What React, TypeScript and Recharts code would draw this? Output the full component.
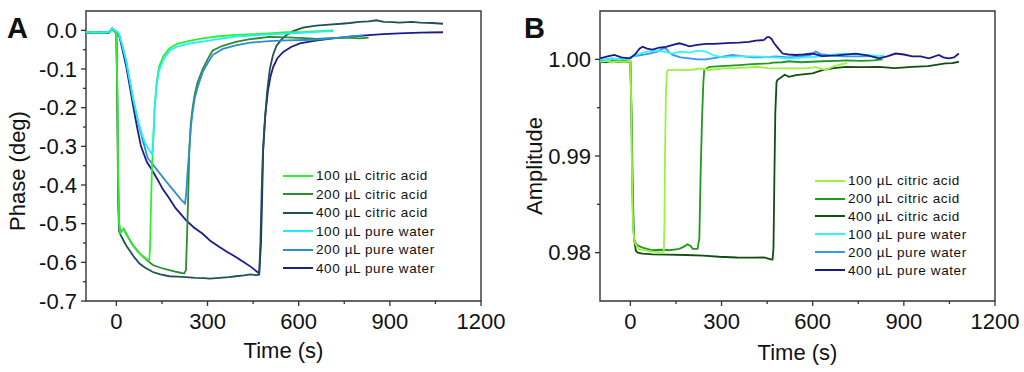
import { LineChart, Line, XAxis, YAxis, ReferenceArea, Legend } from "recharts"

type Pt = [number, number]

// time axis (s)
const X_TICKS = [0, 150, 300, 450, 600, 750, 900, 1050, 1200]
const PHASE_TICKS = [-0.7, -0.65, -0.6, -0.55, -0.5, -0.45, -0.4, -0.35, -0.3, -0.25, -0.2, -0.15, -0.1, -0.05, 0]
const AMP_TICKS = [0.98, 0.985, 0.99, 0.995, 1.0]

const SERIES_NAMES = [
  "100 µL citric acid",
  "200 µL citric acid",
  "400 µL citric acid",
  "100 µL pure water",
  "200 µL pure water",
  "400 µL pure water",
]

// panel A: phase (deg) vs time
const A_CITRIC_100: Pt[] = [
  [-100, -0.006], [-85, -0.004], [-70, -0.007], [-55, -0.005], [-40, -0.006], [-25, -0.004], [-14, 0.004], [-6, -0.002],
  [0, -0.008], [3, -0.15], [6, -0.38], [9, -0.5], [13, -0.524], [18, -0.519], [24, -0.514], [30, -0.524], [40, -0.538],
  [55, -0.557], [70, -0.572], [85, -0.583], [100, -0.592], [108, -0.596], [111, -0.56], [114, -0.45], [117, -0.36],
  [121, -0.29], [126, -0.2], [132, -0.14], [140, -0.095], [155, -0.066], [175, -0.046], [200, -0.035], [240, -0.027],
  [284, -0.021], [330, -0.016], [393, -0.012], [450, -0.01], [500, -0.008], [560, -0.005], [620, -0.004], [670, -0.002],
  [713, 0.0],
]
const A_CITRIC_200: Pt[] = [
  [-100, -0.005], [-85, -0.007], [-70, -0.005], [-55, -0.006], [-40, -0.004], [-25, -0.006], [-14, 0.004], [-6, -0.003],
  [0, -0.008], [3, -0.15], [6, -0.38], [9, -0.5], [13, -0.523], [18, -0.518], [24, -0.513], [30, -0.522], [40, -0.537],
  [55, -0.556], [70, -0.571], [85, -0.583], [100, -0.594], [120, -0.607], [145, -0.614], [174, -0.62], [200, -0.625],
  [223, -0.629], [229, -0.62], [233, -0.52], [237, -0.41], [240, -0.31], [245, -0.24], [251, -0.2], [258, -0.165],
  [267, -0.135], [284, -0.1], [300, -0.075], [317, -0.052], [350, -0.04], [393, -0.03], [440, -0.023], [503, -0.017],
  [560, -0.018], [620, -0.02], [658, -0.022], [700, -0.02], [760, -0.019], [801, -0.021], [830, -0.019],
]
const A_CITRIC_400: Pt[] = [
  [-100, -0.006], [-80, -0.005], [-60, -0.007], [-40, -0.005], [-25, -0.006], [-14, 0.003], [-6, -0.003], [0, -0.009],
  [3, -0.2], [6, -0.45], [9, -0.52], [16, -0.532], [25, -0.546], [35, -0.56], [43, -0.569], [60, -0.588], [76, -0.603],
  [95, -0.614], [120, -0.625], [145, -0.631], [174, -0.636], [200, -0.637], [229, -0.638], [260, -0.64], [290, -0.641],
  [306, -0.642], [340, -0.64], [370, -0.638], [393, -0.636], [420, -0.634], [440, -0.631], [459, -0.633], [470, -0.632],
  [474, -0.55], [478, -0.42], [482, -0.32], [488, -0.24], [496, -0.16], [505, -0.1], [515, -0.065], [527, -0.04],
  [543, -0.024], [560, -0.012], [582, -0.002], [614, 0.007], [658, 0.012], [700, 0.015], [740, 0.017], [768, 0.019],
  [800, 0.022], [830, 0.023], [856, 0.026], [880, 0.022], [910, 0.021], [932, 0.02], [970, 0.022], [1000, 0.02],
  [1040, 0.019], [1075, 0.017],
]
const A_WATER_100: Pt[] = [
  [-100, -0.004], [-85, -0.006], [-70, -0.004], [-55, -0.006], [-40, -0.005], [-25, -0.004], [-14, 0.005], [-6, 0.001],
  [0, -0.002], [5, -0.005], [10, -0.013], [20, -0.04], [32, -0.078], [43, -0.125], [54, -0.172], [70, -0.23],
  [87, -0.276], [100, -0.3], [110, -0.313], [117, -0.32], [121, -0.29], [126, -0.2], [132, -0.145], [140, -0.105],
  [155, -0.075], [176, -0.052], [200, -0.042], [240, -0.034], [284, -0.029], [340, -0.022], [393, -0.016], [450, -0.013],
  [520, -0.01], [600, -0.007], [660, -0.004], [713, -0.002],
]
const A_WATER_200: Pt[] = [
  [-100, -0.007], [-85, -0.005], [-70, -0.007], [-55, -0.005], [-40, -0.007], [-25, -0.005], [-14, 0.005], [-6, 0.0],
  [0, -0.003], [5, -0.006], [10, -0.014], [20, -0.042], [32, -0.08], [43, -0.127], [54, -0.175], [70, -0.232],
  [87, -0.285], [103, -0.33], [130, -0.357], [160, -0.387], [190, -0.416], [215, -0.44], [226, -0.448], [230, -0.42],
  [234, -0.37], [240, -0.31], [245, -0.25], [251, -0.21], [258, -0.175], [267, -0.148], [284, -0.108], [300, -0.085],
  [317, -0.064], [350, -0.048], [393, -0.039], [440, -0.032], [503, -0.028], [560, -0.026], [620, -0.025], [658, -0.024],
  [720, -0.02], [770, -0.016], [812, -0.013],
]
const A_WATER_400: Pt[] = [
  [-100, -0.005], [-85, -0.004], [-70, -0.006], [-55, -0.004], [-40, -0.006], [-25, -0.005], [-14, 0.004], [-6, 0.0],
  [0, -0.004], [5, -0.007], [10, -0.016], [20, -0.05], [32, -0.092], [43, -0.14], [54, -0.19], [68, -0.25], [81, -0.3],
  [100, -0.34], [120, -0.365], [135, -0.385], [152, -0.41], [170, -0.43], [195, -0.46], [229, -0.491], [255, -0.51],
  [284, -0.526], [310, -0.545], [338, -0.56], [365, -0.573], [393, -0.586], [420, -0.6], [445, -0.613], [470, -0.629],
  [476, -0.55], [480, -0.42], [483, -0.31], [490, -0.22], [499, -0.155], [507, -0.12], [516, -0.095], [530, -0.072],
  [549, -0.056], [575, -0.043], [604, -0.034], [650, -0.027], [713, -0.021], [780, -0.016], [820, -0.013], [877, -0.01],
  [930, -0.008], [1000, -0.006], [1075, -0.005],
]

// panel B: normalised amplitude vs time
const B_CITRIC_100: Pt[] = [
  [-100, 0.9998], [-80, 0.99985], [-60, 0.9997], [-40, 0.9998], [-20, 0.99975], [0, 0.9998], [3, 0.995], [6, 0.987],
  [9, 0.9826], [13, 0.9812], [20, 0.9807], [30, 0.98035], [45, 0.9803], [60, 0.98015], [73, 0.9801], [90, 0.98005],
  [106, 0.98], [110, 0.9801], [112, 0.983], [114, 0.99], [117, 0.9965], [120, 0.9986], [123, 0.99889], [150, 0.9989],
  [194, 0.99889], [230, 0.99905], [260, 0.9989], [303, 0.99906], [340, 0.9991], [380, 0.99915], [413, 0.99923],
  [450, 0.9991], [490, 0.99906], [522, 0.99906], [577, 0.99906], [610, 0.9992], [643, 0.99889], [670, 0.9993],
  [709, 0.99958], [713, 0.9996],
]
const B_CITRIC_200: Pt[] = [
  [-100, 0.99975], [-80, 0.9998], [-60, 0.9997], [-40, 0.99985], [-20, 0.9998], [0, 0.99975], [3, 0.995], [6, 0.987],
  [9, 0.9828], [13, 0.9813], [20, 0.9808], [40, 0.98052], [73, 0.98025], [100, 0.9803], [128, 0.98025], [150, 0.98035],
  [161, 0.9804], [175, 0.9806], [188, 0.98087], [198, 0.9807], [205, 0.9804], [221, 0.9804], [227, 0.9815], [231, 0.988],
  [236, 0.994], [240, 0.9975], [243, 0.99889], [260, 0.99923], [300, 0.9993], [358, 0.9994], [400, 0.9995],
  [457, 0.99958], [470, 0.99965], [500, 0.9997], [522, 0.9998], [560, 0.9997], [599, 0.99975], [632, 0.9998],
  [680, 0.99985], [709, 0.9999], [760, 0.99985], [800, 0.9999], [830, 1.0],
]
const B_CITRIC_400: Pt[] = [
  [-100, 0.9998], [-80, 0.9997], [-60, 0.9998], [-40, 0.99975], [-20, 0.9998], [0, 0.99975], [4, 0.994], [8, 0.986],
  [12, 0.9815], [18, 0.9802], [24, 0.98], [40, 0.9799], [73, 0.97983], [120, 0.9798], [183, 0.97976], [240, 0.9797],
  [292, 0.97958], [350, 0.9795], [402, 0.97948], [440, 0.9795], [462, 0.97931], [468, 0.9793], [471, 0.9805],
  [474, 0.988], [477, 0.9945], [481, 0.99765], [484, 0.99785], [508, 0.9984], [522, 0.99819], [545, 0.99837],
  [599, 0.99854], [632, 0.99889], [670, 0.9991], [709, 0.99923], [760, 0.9992], [818, 0.99923], [870, 0.9991],
  [928, 0.99923], [980, 0.9993], [1037, 0.99958], [1060, 0.9996], [1081, 0.99975],
]
const B_WATER_100: Pt[] = [
  [-100, 1.0], [-80, 0.99995], [-60, 1.0001], [-40, 1.0], [-25, 1.0001], [-10, 1.0], [0, 1.0002], [15, 1.0004],
  [30, 1.0006], [55, 1.0008], [84, 1.0009], [110, 1.0008], [139, 1.0006], [165, 1.0008], [194, 1.0007], [220, 1.0009],
  [249, 1.0008], [275, 1.0004], [303, 1.0002], [350, 1.0003], [413, 1.0003], [470, 1.0002], [522, 1.0001],
  [580, 1.0002], [632, 1.0003], [670, 1.0005], [709, 1.0006], [764, 1.00045], [800, 1.0004], [818, 1.0003],
  [835, 1.0004],
]
const B_WATER_200: Pt[] = [
  [-100, 0.9999], [-80, 1.0], [-60, 1.0001], [-40, 1.0], [-20, 1.0001], [0, 1.0001], [8, 1.0003], [30, 1.0004],
  [62, 1.0006], [90, 1.0008], [105, 1.0011], [117, 1.00114], [125, 1.0008], [139, 1.00045], [165, 1.0002],
  [194, 1.0001], [220, 1.0], [249, 1.0], [290, 1.0002], [336, 1.00045], [369, 1.00034], [400, 1.0002], [435, 1.0002],
  [479, 1.0003], [520, 1.0002], [560, 1.0003], [590, 1.0004], [610, 1.0008], [630, 1.0005], [654, 1.00045],
  [700, 1.0003], [764, 1.0003], [807, 1.00035], [815, 1.0003],
]
const B_WATER_400: Pt[] = [
  [-100, 1.0001], [-75, 1.0003], [-53, 1.00045], [-30, 1.0002], [-3, 1.0001], [15, 1.0005], [30, 1.0011], [40, 1.0013],
  [55, 1.0011], [73, 1.001], [95, 1.0012], [117, 1.0013], [140, 1.0015], [161, 1.00166], [180, 1.0015], [194, 1.00135],
  [220, 1.0015], [249, 1.0016], [275, 1.0016], [303, 1.00166], [330, 1.0017], [358, 1.00173], [390, 1.0018],
  [413, 1.00193], [440, 1.002], [450, 1.0023], [457, 1.00229], [465, 1.0021], [473, 1.00166], [490, 1.001],
  [501, 1.0006], [520, 1.0005], [545, 1.00045], [570, 1.0005], [599, 1.0006], [632, 1.00034], [680, 1.0004],
  [742, 1.0006], [780, 1.0004], [818, 1.0001], [845, 1.0003], [873, 1.0006], [900, 1.0005], [928, 1.0003],
  [955, 1.0003], [983, 1.0001], [1015, 1.00045], [1030, 1.0002], [1048, 1.0001], [1065, 1.0002], [1081, 1.0006],
]

const FONT = "'Liberation Sans', Arial, sans-serif"
const INK = "#111"
const FRAME = "#333"

const COLORS_A = ["#2ef02e", "#2e8b2e", "#1f5252", "#1ff0f8", "#2a8fcc", "#1c1c8c"]
const COLORS_B = ["#9cf23c", "#1e9a1e", "#0f4f0f", "#30f5ff", "#3a96f5", "#1a1a8a"]

const toRows = (pts: Pt[]) => pts.map(([t, v]) => ({ t, v }))

const XTick = ({ x, y, payload }: any) => {
  const major = payload.value % 300 === 0
  return (
    <g>
      <line x1={x} x2={x} y1={y} y2={y + (major ? 5 : 3)} stroke={FRAME} strokeWidth={1.3} />
      {major && (
        <text x={x} y={y + 20} textAnchor="middle" dominantBaseline="central" fontFamily={FONT} fontSize={22} fill={INK}>
          {payload.value}
        </text>
      )}
    </g>
  )
}

const makeYTick = (isMajor: (v: number) => boolean, fmt: (v: number) => string) =>
  ({ x, y, payload }: any) => {
    const major = isMajor(payload.value)
    return (
      <g>
        <line x1={x} x2={x - (major ? 5 : 3)} y1={y} y2={y} stroke={FRAME} strokeWidth={1.3} />
        {major && (
          <text x={x - 9} y={y} textAnchor="end" dominantBaseline="central" fontFamily={FONT} fontSize={22} fill={INK}>
            {fmt(payload.value)}
          </text>
        )}
      </g>
    )
  }

const PhaseTick = makeYTick((v) => Math.round(v * 100) % 10 === 0, (v) => v.toFixed(1))
const AmpTick = makeYTick((v) => Math.round(v * 1000) % 10 === 0, (v) => v.toFixed(2))

const title = (text: string, x: number, y: number, vertical = false) => () => (
  <text
    x={x}
    y={y}
    textAnchor="middle"
    dominantBaseline="central"
    transform={vertical ? `rotate(-90 ${x} ${y})` : undefined}
    fontFamily={FONT}
    fontSize={22}
    fill={INK}
  >
    {text}
  </text>
)

const LegendBox = ({ colors, rowH }: { colors: string[]; rowH: number }) => (
  <div style={{ fontFamily: FONT, fontSize: 13.5, letterSpacing: 0.6, color: INK }}>
    {SERIES_NAMES.map((name, i) => (
      <div key={name} style={{ display: "flex", alignItems: "center", height: rowH, whiteSpace: "nowrap" }}>
        <span style={{ display: "inline-block", width: 30, height: 2, background: colors[i], marginRight: 3 }} />
        <span>{name}</span>
      </div>
    ))}
  </div>
)

export default function App() {
  const a = [A_CITRIC_100, A_CITRIC_200, A_CITRIC_400, A_WATER_100, A_WATER_200, A_WATER_400].map(toRows)
  const b = [B_CITRIC_100, B_CITRIC_200, B_CITRIC_400, B_WATER_100, B_WATER_200, B_WATER_400].map(toRows)
  // drawing order (last on top)
  const orderA = [5, 2, 1, 4, 0, 3]
  const orderB = [2, 1, 0, 4, 3, 5]

  return (
    <div style={{ position: "absolute", left: 0, top: 0, width: 1024, height: 372, background: "#fff" }}>
      <div style={{ position: "absolute", left: 0, top: 0 }}>
        <LineChart width={512} height={372} margin={{ top: 11, right: 31, bottom: 0, left: 0 }}>
          <XAxis
            type="number"
            dataKey="t"
            domain={[-100, 1200]}
            ticks={X_TICKS}
            interval={0}
            height={71}
            axisLine={false}
            tickLine={false}
            tickSize={0}
            tickMargin={0}
            tick={<XTick />}
            label={{ content: title("Time (s)", 283.5, 350) }}
          />
          <YAxis
            type="number"
            domain={[-0.7, 0.05]}
            ticks={PHASE_TICKS}
            interval={0}
            width={86}
            axisLine={false}
            tickLine={false}
            tickSize={0}
            tickMargin={0}
            tick={<PhaseTick />}
            label={{ content: title("Phase (deg)", 17, 171, true) }}
          />
          <ReferenceArea x1={-100} x2={1200} y1={-0.7} y2={0.05} fill="none" stroke={FRAME} strokeWidth={1.4} />
          {orderA.map((i) => (
            <Line
              key={i}
              data={a[i]}
              dataKey="v"
              name={SERIES_NAMES[i]}
              type="linear"
              stroke={COLORS_A[i]}
              strokeWidth={1.8}
              dot={false}
              isAnimationActive={false}
            />
          ))}
          <Legend
            layout="vertical"
            align="center"
            verticalAlign="middle"
            wrapperStyle={{ left: 283, top: 166.5, width: 200 }}
            content={() => <LegendBox colors={COLORS_A} rowH={18.5} />}
          />
        </LineChart>
      </div>

      <div style={{ position: "absolute", left: 512, top: 0 }}>
        <LineChart width={512} height={372} margin={{ top: 11, right: 29, bottom: 0, left: 0 }}>
          <XAxis
            type="number"
            dataKey="t"
            domain={[-100, 1200]}
            ticks={X_TICKS}
            interval={0}
            height={71}
            axisLine={false}
            tickLine={false}
            tickSize={0}
            tickMargin={0}
            tick={<XTick />}
            label={{ content: title("Time (s)", 285.5, 352) }}
          />
          <YAxis
            type="number"
            domain={[0.975, 1.005]}
            ticks={AMP_TICKS}
            interval={0}
            width={88}
            axisLine={false}
            tickLine={false}
            tickSize={0}
            tickMargin={0}
            tick={<AmpTick />}
            label={{ content: title("Amplitude", 22, 166, true) }}
          />
          <ReferenceArea x1={-100} x2={1200} y1={0.975} y2={1.005} fill="none" stroke={FRAME} strokeWidth={1.4} />
          {orderB.map((i) => (
            <Line
              key={i}
              data={b[i]}
              dataKey="v"
              name={SERIES_NAMES[i]}
              type="linear"
              stroke={COLORS_B[i]}
              strokeWidth={1.8}
              dot={false}
              isAnimationActive={false}
            />
          ))}
          <Legend
            layout="vertical"
            align="center"
            verticalAlign="middle"
            wrapperStyle={{ left: 303, top: 171.7, width: 200 }}
            content={() => <LegendBox colors={COLORS_B} rowH={17.9} />}
          />
        </LineChart>
      </div>

      <div style={{ position: "absolute", left: 7, top: 12, fontFamily: FONT, fontWeight: "bold", fontSize: 29, color: INK }}>A</div>
      <div style={{ position: "absolute", left: 524, top: 12, fontFamily: FONT, fontWeight: "bold", fontSize: 29, color: INK }}>B</div>
    </div>
  )
}
